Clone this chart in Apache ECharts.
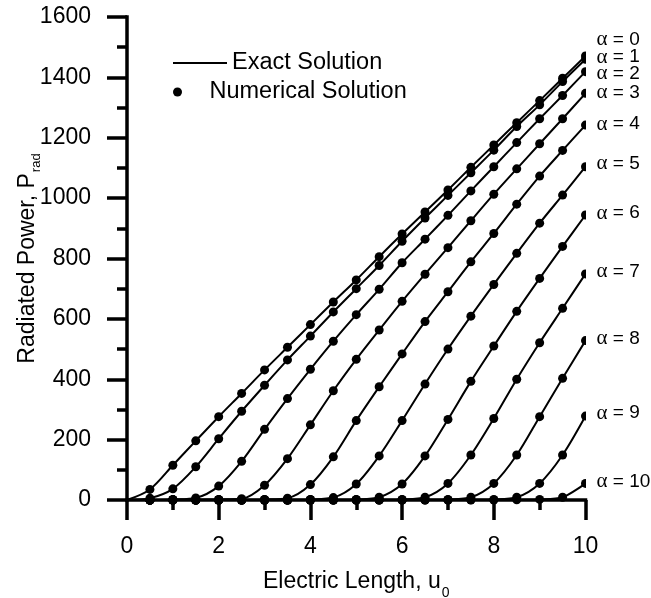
<!DOCTYPE html>
<html>
<head>
<meta charset="utf-8">
<script src="https://cdn.jsdelivr.net/npm/echarts@6/dist/echarts.min.js"></script>
<style>
  html, body { margin: 0; padding: 0; background: #fff; }
  #chart { width: 651px; height: 598px; }
</style>
</head>
<body>
<div id="chart"></div>
<script>
// Electric length u0 (sample points of both solutions)
const electricLength = [0, 0.5, 1, 1.5, 2, 2.5, 3, 3.5, 4, 4.5, 5, 5.5, 6, 6.5, 7, 7.5, 8, 8.5, 9, 9.5, 10];

// Radiated power P_rad for each alpha
const alpha0  = [0, 35, 115, 196, 276, 353, 431, 506, 581, 656, 729, 806, 881, 954, 1027, 1102, 1176, 1250, 1323, 1397, 1471];
const alpha1  = [0, 6, 37, 110, 203, 294, 380, 464, 543, 623, 700, 777, 857, 934, 1009, 1084, 1159, 1237, 1309, 1386, 1460];
const alpha2  = [0, 0, 2, 7, 46, 128, 234, 336, 433, 526, 614, 698, 786, 864, 943, 1024, 1104, 1184, 1263, 1340, 1419];
const alpha3  = [0, 0, 0, 1, 2, 4, 49, 137, 249, 362, 466, 563, 658, 748, 836, 925, 1013, 1097, 1180, 1263, 1347];
const alpha4  = [0, 0, 0, 0, 0, 1, 2, 6, 51, 143, 263, 375, 484, 591, 690, 789, 883, 980, 1073, 1158, 1242];
const alpha5  = [0, 0, 0, 0, 0, 0, 0, 1, 2, 8, 53, 146, 263, 384, 500, 609, 714, 817, 917, 1010, 1104];
const alpha6  = [0, 0, 0, 0, 0, 0, 0, 0, 0, 1, 2, 9, 53, 146, 267, 393, 510, 625, 734, 840, 944];
const alpha7  = [0, 0, 0, 0, 0, 0, 0, 0, 0, 0, 0, 1, 2, 9, 55, 149, 270, 400, 521, 635, 749];
const alpha8  = [0, 0, 0, 0, 0, 0, 0, 0, 0, 0, 0, 0, 0, 1, 2, 9, 55, 149, 276, 403, 528];
const alpha9  = [0, 0, 0, 0, 0, 0, 0, 0, 0, 0, 0, 0, 0, 0, 0, 1, 2, 9, 55, 149, 278];
const alpha10 = [0, 0, 0, 0, 0, 0, 0, 0, 0, 0, 0, 0, 0, 0, 0, 0, 0, 1, 2, 9, 55];

const alphaNames = ['0', '1', '2', '3', '4', '5', '6', '7', '8', '9', '10'];

const curves = [alpha0, alpha1, alpha2, alpha3, alpha4, alpha5, alpha6, alpha7, alpha8, alpha9, alpha10];
// vertical nudge of each "α = n" tag so neighbouring tags do not collide
const tagShift = [-16, -2, 2, -1, -1, -3, -2, -2, -2, -3, -2];

const FONT = '"Liberation Sans", Arial, sans-serif';
const chart = echarts.init(document.getElementById('chart'));

const series = curves.map((vals, k) => ({
  name: 'Exact Solution',
  type: 'line',
  data: electricLength.map((u, i) => [u, vals[i]]),
  smooth: 0.3,
  symbol: 'none',
  lineStyle: { color: '#000', width: 2 },
  itemStyle: { color: '#000' },
  silent: true,
  z: 3,
  endLabel: {
    show: true,
    formatter: '{g|α} = ' + alphaNames[k],
    distance: 11,
    offset: [0, tagShift[k]],
    color: '#000',
    fontSize: 19,
    fontFamily: FONT,
    rich: { g: { fontFamily: '"Liberation Serif", serif', fontSize: 21, color: '#000' } }
  }
}));

series.push({
  name: 'Numerical Solution',
  type: 'scatter',
  data: curves.flatMap(vals => electricLength.map((u, i) => [u, vals[i]]).filter(p => p[0] > 0)),
  symbol: 'circle',
  symbolSize: 9,
  itemStyle: { color: '#000', opacity: 1 },
  silent: true,
  z: 4
});

const axisText = { fontSize: 23, color: '#000', fontFamily: FONT, formatter: v => String(v) };
const axisStroke = { color: '#000', width: 3.5 };

chart.setOption({
  animation: false,
  backgroundColor: '#fff',
  grid: { left: 127, right: 65.5, top: 17, bottom: 98, containLabel: false, outerBoundsMode: 'none' },
  legend: [
    {
      data: [{ name: 'Exact Solution', icon: 'rect' }],
      left: 173, top: 51, padding: 0,
      itemWidth: 54, itemHeight: 2,
      selectedMode: false,
      itemStyle: { color: '#000' },
      textStyle: { fontSize: 23.5, color: '#000', fontFamily: FONT }
    },
    {
      data: [{ name: 'Numerical Solution', icon: 'circle' }],
      left: 173, top: 80, padding: 0,
      itemWidth: 54, itemHeight: 9,
      selectedMode: false,
      itemStyle: { color: '#000', opacity: 1 },
      textStyle: { fontSize: 23.5, color: '#000', fontFamily: FONT }
    }
  ],
  xAxis: {
    type: 'value', min: 0, max: 10, interval: 2,
    axisLine: { show: true, lineStyle: Object.assign({ cap: 'square' }, axisStroke) },
    axisTick: { show: true, inside: false, length: 20, lineStyle: axisStroke },
    minorTick: { show: true, splitNumber: 2, length: 10, lineStyle: axisStroke },
    splitLine: { show: false },
    minorSplitLine: { show: false },
    axisLabel: Object.assign({ margin: 35 }, axisText),
    name: '{t|Electric Length, u}{s|0}',
    nameLocation: 'middle',
    nameGap: 70,
    nameMoveOverlap: false,
    nameTextStyle: {
      rich: {
        t: { fontSize: 23, color: '#000', fontFamily: FONT, lineHeight: 26, verticalAlign: 'top' },
        s: { fontSize: 14, color: '#000', fontFamily: FONT, lineHeight: 14, verticalAlign: 'top', padding: [16, 0, 0, 1] }
      }
    }
  },
  yAxis: {
    type: 'value', min: 0, max: 1600, interval: 200,
    axisLine: { show: true, lineStyle: Object.assign({ cap: 'square' }, axisStroke) },
    axisTick: { show: true, inside: false, length: 20, lineStyle: axisStroke },
    minorTick: { show: true, splitNumber: 2, length: 10, lineStyle: axisStroke },
    splitLine: { show: false },
    minorSplitLine: { show: false },
    axisLabel: Object.assign({ margin: 36 }, axisText),
    name: '{t|Radiated Power, P}{s|rad}',
    nameLocation: 'middle',
    nameGap: 85,
    nameMoveOverlap: false,
    nameTextStyle: {
      rich: {
        t: { fontSize: 23, color: '#000', fontFamily: FONT, lineHeight: 26, verticalAlign: 'top' },
        s: { fontSize: 13, color: '#000', fontFamily: FONT, lineHeight: 13, verticalAlign: 'top', padding: [14, 0, 0, 1] }
      }
    }
  },
  series: series
});

// Trim the markers that sit on the right edge of the plot (x = 10) to half discs
const topRight = chart.convertToPixel({ gridIndex: 0 }, [10, 1600]);
const bottomRight = chart.convertToPixel({ gridIndex: 0 }, [10, 0]);
chart.setOption({
  graphic: [{
    type: 'rect',
    silent: true,
    z: 10,
    shape: { x: topRight[0] + 0.5, y: topRight[1] - 6, width: 7, height: bottomRight[1] - topRight[1] + 6 - 2.5 },
    style: { fill: '#fff' }
  }]
});
</script>
</body>
</html>
